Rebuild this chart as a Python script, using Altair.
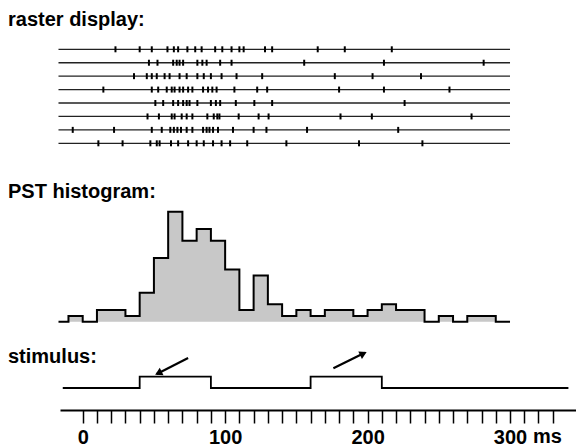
import altair as alt
import pandas as pd

# ---------------- data ----------------
spike_trains = [
    [23, 40, 48.5, 59.5, 64, 67, 73.5, 79, 83.5, 93, 98, 104.5, 110, 113, 128, 133, 165, 184, 217],
    [46.5, 52.5, 63.5, 66, 68, 70.5, 80.5, 84, 87, 96.5, 104.5, 155.5, 211.5, 281.5],
    [36, 45, 48.5, 52, 57.5, 61, 68, 73, 80.5, 85, 90, 97.5, 108, 126, 177, 203.5, 237.5],
    [14.5, 48.5, 53, 59, 62.5, 64.5, 68, 70.5, 74, 77, 84.5, 88, 91, 94, 106.5, 122.5, 129.5, 180, 211.5, 257.5],
    [51, 56.5, 63.5, 67, 70.5, 73, 75, 80.5, 90, 93.5, 96.5, 107.5, 120.5, 133, 226],
    [45.5, 53.5, 62.5, 64.5, 69.5, 73, 77, 87.5, 92, 94.5, 96, 109.5, 123.5, 130.5, 181, 203, 273],
    [-7, 22, 48.5, 55.5, 61.5, 64, 66.5, 69, 73, 77, 84.5, 87, 89, 91.5, 95, 105.5, 120, 129, 157.5, 221.5],
    [11, 28, 47.5, 52, 54, 62, 67, 74, 80, 85, 91.5, 97.5, 103.5, 115.5, 143, 194, 238.5],
]
trace_start = -17
trace_end = 300

bin_starts = list(range(-10, 300, 10))
bin_counts = [1, 0, 2, 2, 1, 5, 11, 19, 14, 16, 14, 9, 2, 8, 3, 1, 2, 1, 2, 2, 1, 2, 3, 2, 2, 0, 1, 0, 1, 1, 0]

stim_t = [-14, 40, 90, 160, 210, 341]
stim_level = [0, 1, 0, 1, 0, 0]

arrow_id = ["a1", "a1", "a2", "a2"]
arrow_t = [74, 52, 176, 198]
arrow_level = [2.65, 1.24, 1.74, 3.12]
head_t = [53.9, 196.3]
head_level = [1.36, 3.0]
head_angle = [243, 64]

tick_values = list(range(0, 340, 10))
unit_label = ["ms"]
unit_at = [300]
section_titles = ["raster display:", "PST histogram:", "stimulus:"]

# ---------------- tables ----------------
raster_df = pd.DataFrame(
    [{"trial": i + 1, "t": t} for i, row in enumerate(spike_trains) for t in row]
)
lines_df = pd.DataFrame(
    {"trial": list(range(1, len(spike_trains) + 1)),
     "start": trace_start, "end": trace_end}
)
hist_df = pd.DataFrame(
    {"t": [trace_start] + bin_starts + [trace_end],
     "count": [0] + bin_counts + [0]}
)
stim_df = pd.DataFrame({"t": stim_t, "level": stim_level})
arrow_df = pd.DataFrame({"id": arrow_id, "t": arrow_t, "level": arrow_level})
head_df = pd.DataFrame({"t": head_t, "level": head_level, "angle": head_angle})
unit_df = pd.DataFrame({"t": unit_at, "u": unit_label})

# ---------------- scales ----------------
FONT = "Liberation Sans"
xscale = alt.Scale(domain=[-15.94, 346.33], nice=False, zero=False)
xaxis = alt.Axis(
    values=tick_values, title=None, grid=False,
    labelExpr="datum.value % 100 == 0 ? datum.label : ''",
    labelOverlap=False, labelFlush=False,
    tickSize=13, tickWidth=1.5, tickColor="black",
    domainColor="black", domainWidth=2,
    labelFont=FONT, labelFontSize=20, labelFontWeight="bold",
    labelColor="black", labelPadding=4,
)


def X(field):
    return alt.X(field, type="quantitative", scale=xscale, axis=xaxis)


raster_y = alt.Scale(domain=[1, 8], range=[41.3, 135.3])
hist_y = alt.Scale(domain=[0, 19], range=[313.7, 203.7])
stim_y = alt.Scale(domain=[0, 1], range=[380, 368.7])

trace_lines = alt.Chart(lines_df).mark_rule(color="#222", strokeWidth=1.3).encode(
    x=X("start"), x2="end",
    y=alt.Y("trial:Q", scale=raster_y, axis=None),
)
spikes = alt.Chart(raster_df).mark_tick(
    orient="vertical", size=6, thickness=2, color="black", opacity=1
).encode(
    x=X("t"),
    y=alt.Y("trial:Q", scale=raster_y, axis=None),
)

hist_fill = alt.Chart(hist_df).mark_area(
    interpolate="step-after", color="#c8c8c8", opacity=1
).encode(
    x=X("t"),
    y=alt.Y("count:Q", scale=hist_y, axis=None),
)
hist_line = alt.Chart(hist_df).mark_line(
    interpolate="step-after", color="black", strokeWidth=2
).encode(
    x=X("t"),
    y=alt.Y("count:Q", scale=hist_y, axis=None),
)

stim_line = alt.Chart(stim_df).mark_line(
    interpolate="step-after", color="black", strokeWidth=1.8
).encode(
    x=X("t"),
    y=alt.Y("level:Q", scale=stim_y, axis=None),
)
arrow_lines = alt.Chart(arrow_df).mark_line(color="black", strokeWidth=2.2).encode(
    x=X("t"),
    y=alt.Y("level:Q", scale=stim_y, axis=None),
    detail="id:N",
)
arrow_heads = alt.Chart(head_df).mark_point(
    shape="triangle", filled=True, color="black", opacity=1, size=70
).encode(
    x=X("t"),
    y=alt.Y("level:Q", scale=stim_y, axis=None),
    angle=alt.Angle("angle:Q", scale=None),
)

ms_label = alt.Chart(unit_df).mark_text(
    align="left", baseline="alphabetic", dx=23, font=FONT, fontSize=20,
    fontWeight="bold", color="black"
).encode(x=X("t"), y=alt.value(435), text="u:N")

title_y = [18.2, 190.3, 355.3]
title_layers = [
    alt.Chart(pd.DataFrame({"s": [s]})).mark_text(
        align="left", baseline="alphabetic", font=FONT, fontSize=20,
        fontWeight="bold", color="black"
    ).encode(x=alt.value(-52), y=alt.value(yv), text="s:N")
    for s, yv in zip(section_titles, title_y)
]

chart = alt.layer(
    hist_fill, hist_line, trace_lines, spikes, stim_line, arrow_lines,
    arrow_heads, ms_label, *title_layers
).resolve_scale(y="independent").properties(
    width=516, height=402,
    autosize=alt.AutoSizeParams(type="none"),
    padding={"left": 52, "top": 0, "right": 0, "bottom": 37},
    background="white",
).configure_view(stroke=None)

chart.save("out.html", embed_options={"renderer": "svg", "actions": False})
